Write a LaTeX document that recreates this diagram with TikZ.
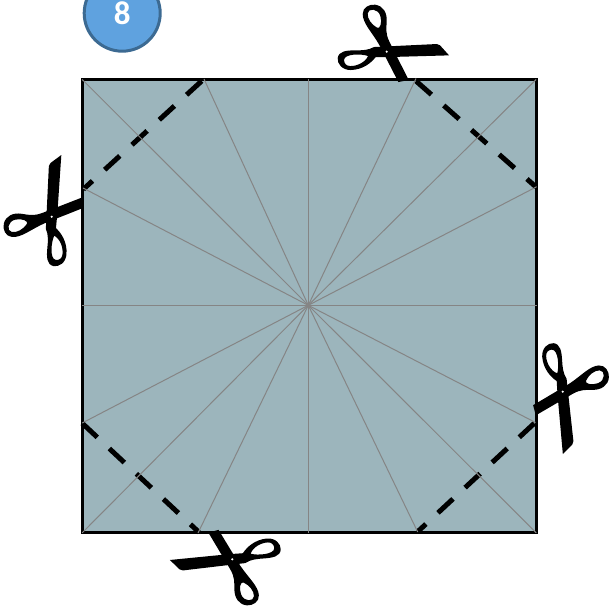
\documentclass[tikz,border=0pt]{standalone}
\usepackage{fontspec}
\setmainfont{Carlito}
\definecolor{panel}{HTML}{9CB5BC}
\definecolor{badgefill}{HTML}{5FA2DF}
\definecolor{badgeline}{HTML}{3C6A92}
\definecolor{rayc}{HTML}{858585}
\tikzset{
  x=1pt,y=-1pt,
  cutline/.style={line width=5pt,black,dash pattern=on 20.5pt off 16.5pt},
  ray/.style={line width=1pt,rayc},
  badge/.style={circle,draw=badgeline,line width=3pt,fill=badgefill,text=white,
    minimum size=76pt,inner sep=0pt,font=\bfseries\fontsize{33}{33}\selectfont},
  scissors/.pic={
    \begin{scope}[scale=1/3,shift={(-170,-155)}]
      \fill[black,even odd rule]
        (236,240) -- (205,246) -- (148,135)
        .. controls (125,95) and (98,70) .. (98,42)
        .. controls (98,22) and (118,12) .. (135,14)
        .. controls (160,17) and (172,40) .. (170,65)
        .. controls (169,85) and (166,100) .. (178,125) -- cycle
        (113,40) .. controls (114,24) and (144,24) .. (151,48)
        .. controls (157,68) and (150,88) .. (141,83)
        .. controls (125,74) and (111,56) .. (113,40) -- cycle;
      \fill[black,even odd rule]
        (132,141) -- (320,132) -- (330,136) -- (357,166) -- (180,171) -- (137,171)
        .. controls (125,187) and (100,209) .. (62,210)
        .. controls (36,210) and (21,191) .. (23,174)
        .. controls (26,153) and (50,151) .. (75,151)
        .. controls (95,151) and (115,151) .. (132,141) -- cycle
        (42,180) .. controls (43,160) and (95,161) .. (114,168)
        .. controls (106,187) and (80,199) .. (60,198)
        .. controls (49,198) and (42,190) .. (42,180) -- cycle;
      \fill[white] (170,155) circle[radius=3.6];
    \end{scope}
  }
}
\begin{document}
\begin{tikzpicture}
\useasboundingbox (0,0) rectangle (611,609);
\node[badge] (badge) at (122.2,13.2) {8};
% corners, centre, edge points
\coordinate (tl) at (82.2,79.5);
\coordinate (tr) at (536.2,79.5);
\coordinate (br) at (536.2,532.8);
\coordinate (bl) at (82.2,532.8);
\coordinate (c) at (308.3,305.3);
\coordinate (t1) at (204,79);
\coordinate (t2) at (308.3,79);
\coordinate (t3) at (416,78.5);
\coordinate (r1) at (536.7,186.7);
\coordinate (r2) at (536.7,305.3);
\coordinate (r3) at (535.5,422.5);
\coordinate (b1) at (198,533);
\coordinate (b2) at (308.3,533);
\coordinate (b3) at (417.7,532);
\coordinate (l1) at (83,188);
\coordinate (l2) at (82.2,305.3);
\coordinate (l3) at (82.2,423);
\fill[panel] (tl) rectangle (br);
\draw[line width=3pt,black] (tl) rectangle (br);
% dashed cut lines
\coordinate (d1a) at (416,81);    \coordinate (d1b) at (536,187);
\coordinate (d2a) at (201.7,81);  \coordinate (d2b) at (83.3,189.3);
\coordinate (d3a) at (82.3,423.3);\coordinate (d3b) at (199,532.3);
\coordinate (d4a) at (534.3,423.3);\coordinate (d4b) at (417.7,531.7);
\draw[cutline] (d1a) -- (d1b);
\draw[cutline] (d2a) -- (d2b);
\draw[cutline] (d3a) -- (d3b);
\draw[cutline] (d4a) -- (d4b);
% fold rays
\foreach \e in {tl,tr,br,bl,t1,t2,t3,r1,r2,r3,b1,b2,b3,l1,l2,l3}
  \draw[ray] (c) -- (\e);
% scissors
\pic at (386.7,51.7) {scissors};
\pic[rotate=84.5] at (51.7,216.7) {scissors};
\pic[rotate=-86.5] at (562.7,391.7) {scissors};
\pic[rotate=184] at (232.3,559.3) {scissors};
\end{tikzpicture}
\end{document}
